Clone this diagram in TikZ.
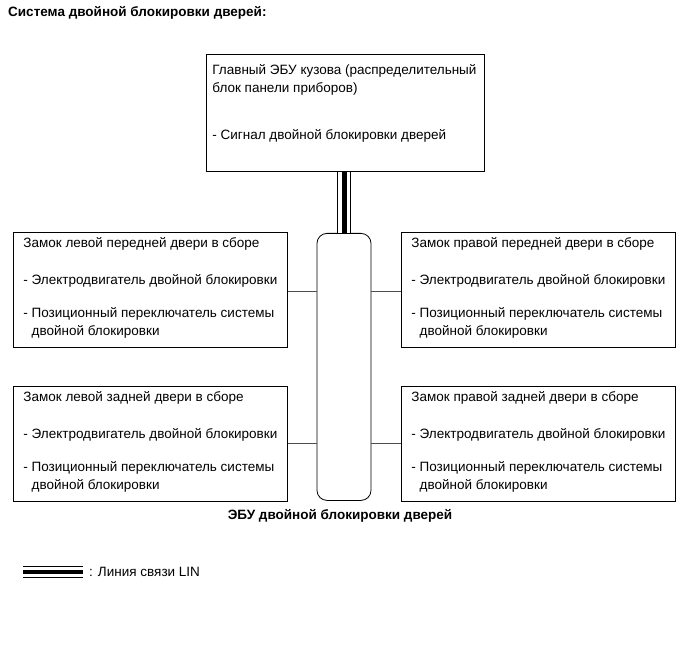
\documentclass[tikz,border=0pt]{standalone}
\usepackage{fontspec}
\setmainfont{Liberation Sans}
\usetikzlibrary{positioning}
\tikzset{
  unitbox/.style={draw, line width=0.8pt, anchor=north west, inner xsep=10pt, inner ysep=5pt, font=\fontsize{13.5}{18}\selectfont},
  ecubox/.style={draw, line width=0.8pt, rounded corners=10pt, minimum width=54pt, minimum height=267pt, anchor=north},
  link/.style={draw=black!70, line width=0.6pt},
  lin/.style={draw=black, line width=2.8*#1, postaction={draw=white, line width=2.4*#1}, postaction={draw=black, line width=#1}},
  lin/.default=5pt,
  caption/.style={font=\bfseries\fontsize{13.5}{18}\selectfont}
}
\newcommand{\doortext}[1]{\parbox[c][105pt][t]{254pt}{Замок #1 двери в сборе\\[19pt]
- Электродвигатель двойной блокировки\\[15pt]
- Позиционный переключатель системы\\
\phantom{- }двойной блокировки}}

\begin{document}
\begin{tikzpicture}[x=1pt, y=-1pt]
  \useasboundingbox (0,0) rectangle (691,660);

  \node [caption, anchor=base west, inner sep=0pt] (title) at (8,17) {Система двойной блокировки дверей:};

  % main body ECU
  \node [unitbox, inner xsep=6pt, inner ysep=10pt] (body) at (206,54) {\parbox[c][97pt][t]{266pt}{Главный ЭБУ кузова (распределительный\\
блок панели приборов)\\[29pt]
- Сигнал двойной блокировки дверей}};

  % door lock assemblies
  \node [unitbox] (lf) at (13,232) {\doortext{левой передней}};
  \node [unitbox] (lr) at (13,386) {\doortext{левой задней}};
  \node [unitbox] (rf) at (401,232) {\doortext{правой передней}};
  \node [unitbox] (rr) at (401,386) {\doortext{правой задней}};

  % double locking ECU
  \node [ecubox] (ecu) at (344,233) {};
  \node [caption, below=5pt of ecu, xshift=-4pt] (ecuname) {ЭБУ двойной блокировки дверей};

  \path [lin] (body.south -| ecu.north) -- (ecu.north);
  \path [link] (lf.east |- 0,291) -- (ecu.west |- 0,291);
  \path [link] (rf.west |- 0,291) -- (ecu.east |- 0,291);
  \path [link] (lr.east |- 0,443) -- (ecu.west |- 0,443);
  \path [link] (rr.west |- 0,443) -- (ecu.east |- 0,443);

  % legend
  \coordinate (legA) at (23,572);
  \coordinate (legB) at (83,572);
  \path [lin=4pt] (legA) -- (legB);
  \node [anchor=west, inner sep=0pt, font=\fontsize{13.5}{18}\selectfont] (legtext) at (89,572) {: Линия связи LIN};
\end{tikzpicture}
\end{document}
